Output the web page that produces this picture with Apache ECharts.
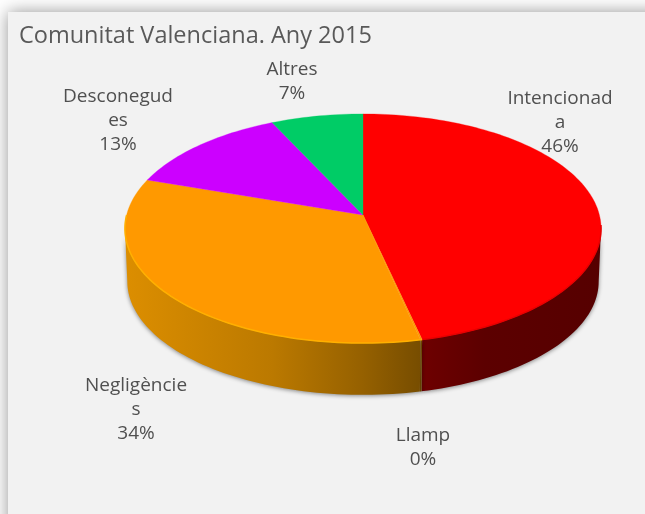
<!DOCTYPE html>
<html><head><meta charset="utf-8">
<style>html,body{margin:0;padding:0;background:#fff}#c{width:645px;height:514px}</style>
<script src="https://cdn.jsdelivr.net/npm/echarts@6/dist/echarts.min.js"></script>
</head><body><div id="c"></div>
<script>
const titleText = 'Comunitat Valenciana. Any 2015';
const categories = ['Intencionada', 'Llamp', 'Negligències', 'Desconegudes', 'Altres'];
const labelNames = ['Intencionad\na', 'Llamp', 'Negligèncie\ns', 'Desconegud\nes', 'Altres'];
const values = [46.45, 0.1, 33.65, 12.8, 7];
const colors = ['#ff0000', '#ff9900', '#ff9900', '#cc00ff', '#00cc66'];
const rimColors = ['#e80000', '#ffb000', '#ffb000', '#cc00ff', '#00cc66'];
const labelPos = [[560, 122], [423, 447], [136, 409], [118, 120], [292, 81]];
const wallStops = [
  [[0, '#6e0000'], [0.35, '#5c0000'], [1, '#560000']],
  [[0, '#7a5000'], [1, '#7a5000']],
  [[0, '#dc8e00'], [0.5, '#bb7900'], [0.8, '#966100'], [1, '#774d00']],
  [[0, '#800080'], [1, '#800080']],
  [[0, '#006633'], [1, '#006633']]
];

const CX = 363, CY = 215, A = 113, B = 236.4, K = 0.118, DEPTH = 53, SHRINK = 0.99;
const total = values.reduce((a, b) => a + b, 0);
function range(i) {
  let s = 0;
  for (let j = 0; j < i; j++) s += values[j];
  return [s / total * 360, (s + values[i]) / total * 360];
}
function project(deg, bottom) {
  const t = deg * Math.PI / 180, X = Math.sin(t), Y = -Math.cos(t), w = 1 - K * Y;
  const f = bottom ? SHRINK : 1;
  return [CX + f * B * X / w, CY + f * A * Y / w + (bottom ? DEPTH : 0)];
}
function arc(a, b, bottom) {
  const n = Math.max(2, Math.ceil(Math.abs(b - a) / 1.5)), pts = [];
  for (let i = 0; i <= n; i++) pts.push(project(a + (b - a) * i / n, bottom));
  return pts;
}
function renderWall(params) {
  const i = params.dataIndex, r = range(i);
  const a = Math.max(r[0], 96.8), b = Math.min(r[1], 263.2);
  if (b <= a) return { type: 'group', children: [] };
  const topArc = arc(a, b, false), botArc = arc(b, a, true);
  const pts = topArc.concat(botArc);
  const xs = pts.map(p => p[0]);
  const x0 = Math.min.apply(null, xs), x1 = Math.max.apply(null, xs);
  return {
    type: 'polygon',
    shape: { points: pts },
    style: {
      fill: new echarts.graphic.LinearGradient(x0, 0, x1, 0,
        wallStops[i].map(s => ({ offset: s[0], color: s[1] })), true),
      shadowBlur: 4, shadowColor: 'rgba(0,0,0,0.45)', shadowOffsetY: 1
    }
  };
}
function renderTop(params) {
  const i = params.dataIndex, r = range(i);
  const outer = arc(r[0], r[1], false);
  const children = [{
    type: 'polygon',
    shape: { points: [[CX, CY]].concat(outer) },
    style: { fill: colors[i], stroke: colors[i], lineWidth: 0.3 }
  }];
  const a = Math.max(r[0], 95), b = Math.min(r[1], 270);
  if (b > a) children.push({
    type: 'polyline',
    shape: { points: arc(a, b, false) },
    style: { fill: null, stroke: rimColors[i], lineWidth: 1.5 }
  });
  return { type: 'group', children };
}
function renderLabel(params) {
  const i = params.dataIndex;
  return {
    type: 'text',
    style: {
      text: labelNames[i] + '\n' + Math.round(values[i] / total * 100) + '%',
      x: labelPos[i][0], y: labelPos[i][1] + 1,
      align: 'center', verticalAlign: 'middle',
      fontFamily: 'Open Sans', fontSize: 19, lineHeight: 24, fill: '#505050'
    }
  };
}
const rows = categories.map((c, i) => ({ name: c, value: values[i] }));
const chart = echarts.init(document.getElementById('c'), null, { renderer: 'canvas' });
chart.setOption({
  animation: false,
  backgroundColor: '#ffffff',
  title: {
    text: titleText, left: 14, top: 19,
    textStyle: { fontFamily: 'Open Sans', fontWeight: 'normal', fontSize: 23.5, color: '#595959' }
  },
  graphic: [{
    type: 'rect', z: -10, silent: true,
    shape: { x: 8, y: 12, width: 700, height: 600 },
    style: { fill: '#f2f2f2', shadowBlur: 16, shadowColor: 'rgba(0,0,0,0.42)' }
  }],
  series: [
    { type: 'custom', coordinateSystem: 'none', data: rows, renderItem: renderWall, z: 1, silent: true },
    { type: 'custom', coordinateSystem: 'none', data: rows, renderItem: renderTop, z: 2, silent: true },
    { type: 'custom', coordinateSystem: 'none', data: rows, renderItem: renderLabel, z: 3, silent: true }
  ]
});
</script></body></html>
